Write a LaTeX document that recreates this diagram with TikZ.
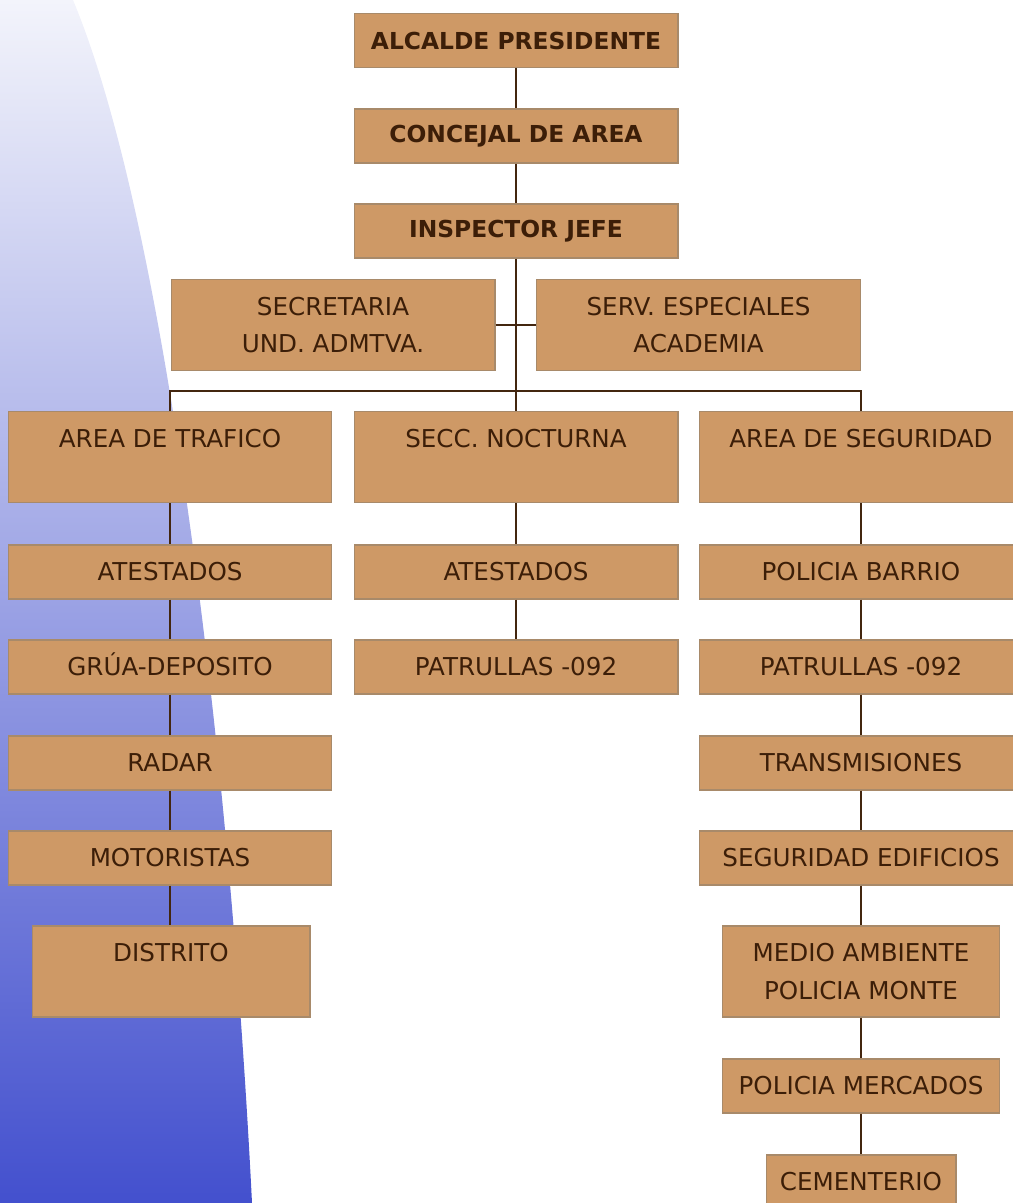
\documentclass[tikz,border=0pt]{standalone}
\usepackage{fontspec}
\setmainfont{DejaVu Sans}
\usepackage{tikz}
\usetikzlibrary{calc}

\definecolor{boxfill}{HTML}{CE9966}
\definecolor{boxline}{HTML}{A88A6A}
\definecolor{ink}{HTML}{3C1E08}
\definecolor{linkcol}{HTML}{43260F}
\definecolor{swtop}{HTML}{F3F4FB}
\definecolor{swmid}{HTML}{C0C2EA}
\definecolor{swbot}{HTML}{4350CE}

\begin{document}
\begin{tikzpicture}[x=0.02cm,y=-0.02cm,
    box/.style={draw=boxline,fill=boxfill,line width=0.6pt,text=ink,
      font=\fontsize{14}{21.5}\selectfont,align=center,inner sep=0pt,
      minimum width=6.48cm,minimum height=1.08cm},
    head/.style={box,font=\fontsize{13.3}{21.5}\selectfont\bfseries},
    tall/.style={minimum height=1.82cm},
    capsonly/.style={text height=10.2pt,text depth=0pt},
    lnk/.style={draw=linkcol,line width=0.9pt}]
  \useasboundingbox (0,0) rectangle (1013,1203);
  % background swoosh
  \shade[top color=swtop,middle color=swmid,bottom color=swbot]
    (0,0) -- (73,0) .. controls (165,220) and (229.5,753) .. (252,1203)
    -- (0,1203) -- cycle;

  % top of the chart
  \node[head] (alcalde) at (516,40.5) {ALCALDE PRESIDENTE};
  \node[head] (concejal) at (516,136) {CONCEJAL DE AREA};
  \node[head] (inspector) at (516,231) {INSPECTOR JEFE};
  \node[box,tall] (secret) at (333,325) {SECRETARIA\\UND. ADMTVA.};
  \node[box,tall] (serv) at (698.5,325) {SERV. ESPECIALES\\ACADEMIA};
  \coordinate (bar) at (516,391);

  % the three areas
  \node[box,tall] (trafico) at (170,457) {AREA DE TRAFICO\\\mbox{}};
  \node[box,tall] (nocturna) at (516,457) {SECC. NOCTURNA\\\mbox{}};
  \node[box,tall] (seguridad) at (861,457) {AREA DE SEGURIDAD\\\mbox{}};

  % trafico column
  \node[box] (t1) at (170,572) {ATESTADOS};
  \node[box,capsonly] (t2) at (170,667) {GRÚA-DEPOSITO};
  \node[box] (t3) at (170,763) {RADAR};
  \node[box] (t4) at (170,858) {MOTORISTAS};
  \node[box,tall,minimum width=5.56cm] (t5) at (171,971.5) {DISTRITO\\\mbox{}};

  % nocturna column
  \node[box] (n1) at (516,572) {ATESTADOS};
  \node[box] (n2) at (516,667) {PATRULLAS -092};

  % seguridad column
  \node[box] (s1) at (861,572) {POLICIA BARRIO};
  \node[box] (s2) at (861,667) {PATRULLAS -092};
  \node[box] (s3) at (861,763) {TRANSMISIONES};
  \node[box] (s4) at (861,858) {SEGURIDAD EDIFICIOS};
  \node[box,tall,minimum width=5.54cm] (s5) at (861,971.5) {MEDIO AMBIENTE\\POLICIA MONTE};
  \node[box,minimum width=5.54cm] (s6) at (861,1086) {POLICIA MERCADOS};
  \node[box,minimum width=3.8cm] (s7) at (861,1182) {CEMENTERIO};

  % connectors
  \draw[lnk] (alcalde) -- (concejal) -- (inspector);
  \draw[lnk] (inspector) -- (bar);
  \draw[lnk] (secret) -- (serv);
  \draw[lnk] (trafico.north) |- (bar) -| (seguridad.north);
  \draw[lnk] (bar) -- (nocturna.north);
  \foreach \a/\b in {trafico/t1,t1/t2,t2/t3,t3/t4,t4/t5,
                     nocturna/n1,n1/n2,
                     seguridad/s1,s1/s2,s2/s3,s3/s4,s4/s5,s5/s6,s6/s7}
    \draw[lnk] (\a.south) -- (\a.south |- \b.north);
\end{tikzpicture}
\end{document}
